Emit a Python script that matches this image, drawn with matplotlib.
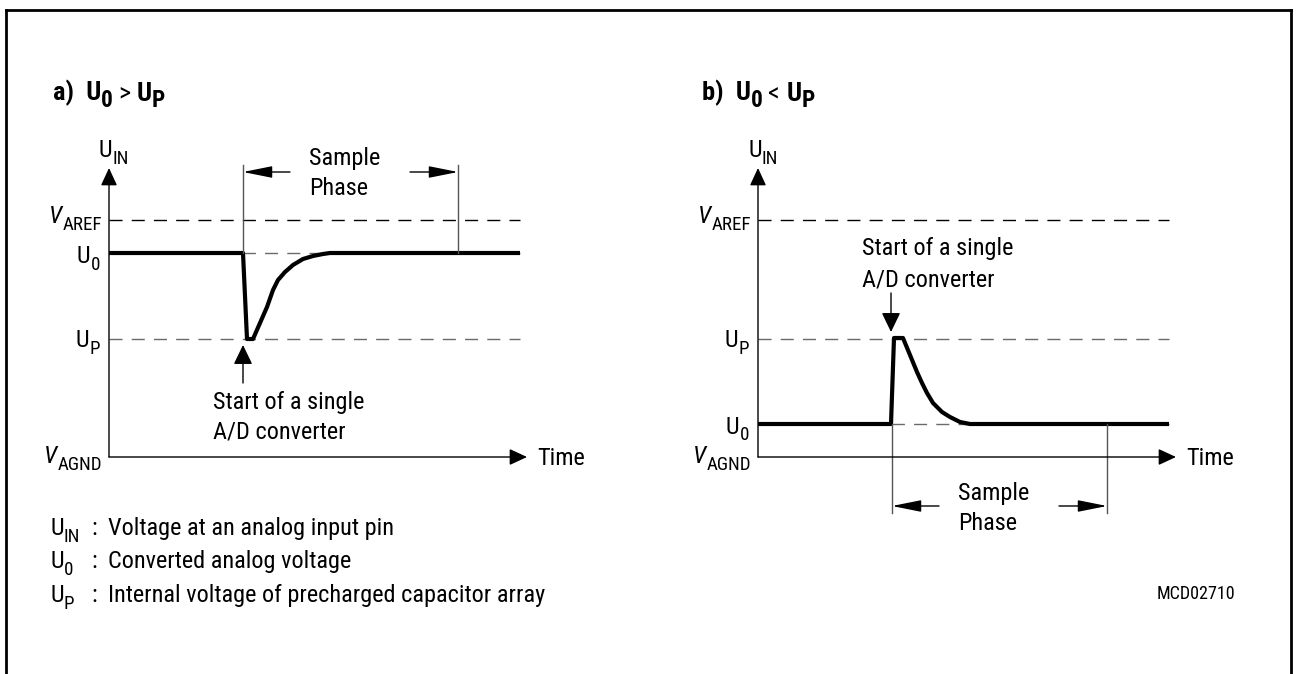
import matplotlib
matplotlib.use('Agg')
import matplotlib.pyplot as plt
from matplotlib import font_manager
from matplotlib.font_manager import FontProperties
from matplotlib.lines import Line2D


# ---- font: prefer a narrow sans (original uses Helvetica Narrow) ----
def _num(v, table):
    return table.get(v, 400) if isinstance(v, str) else v


def narrow_fonts():
    groups = {}
    for f in font_manager.fontManager.ttflist:
        fn = f.fname.lower()
        nm = f.name.lower()
        if 'mono' in fn or 'dejavu' in nm or ('serif' in nm and 'sans' not in nm):
            continue
        if any(k in fn for k in ('semicondensed', 'extracondensed', 'ultracondensed')):
            continue
        st = _num(f.stretch, font_manager.stretch_dict)
        if not (st < 500 or 'condensed' in fn or 'narrow' in fn):
            continue
        groups.setdefault(f.name, []).append(
            (f.style, _num(f.weight, font_manager.weight_dict), f.fname))
    order = ['liberation sans narrow', 'arial narrow', 'roboto condensed', 'noto sans']
    for key in order:
        for name, items in groups.items():
            if name.lower().startswith(key):
                def pick(style, w):
                    c = [i for i in items if (i[0] == 'normal') == (style == 'normal')]
                    c = c or items
                    return min(c, key=lambda i: abs(i[1] - w))[2]
                return (FontProperties(fname=pick('normal', 400)),
                        FontProperties(fname=pick('normal', 700)),
                        FontProperties(fname=pick('italic', 400)))
    return None


found = narrow_fonts()
if found:
    REG, BOLD, ITAL = found
    FS = 17.5
else:
    REG = FontProperties(family='Liberation Sans')
    BOLD = FontProperties(family='Liberation Sans', weight='bold')
    ITAL = FontProperties(family='Liberation Sans', style='italic')
    FS = 15.5
plt.rcParams['lines.scale_dashes'] = False

# --- data (time in arbitrary units, voltage with V_AGND = 0) ---
v_aref = 4.74
u_p = 2.36
u0_a = 4.08
u0_b = 0.66
t_end = 8.22          # end of drawn signal / dashed levels
t_axis = 8.36         # tip of time axis
u_axis = 5.78         # tip of U_IN axis
t_start = 2.68        # start of conversion
t_sample_end = 6.98   # end of sample phase

# waveform a)  U0 > UP
t_a = [0, 2.68, 2.76, 2.88, 3.02, 3.16, 3.28, 3.38, 3.52, 3.68, 3.88, 4.08, 4.28, 4.42, 8.22]
u_a = [4.08, 4.08, 2.36, 2.36, 2.68, 3.00, 3.34, 3.54, 3.70, 3.84, 3.96, 4.02, 4.06, 4.08, 4.08]

# waveform b)  U0 < UP
t_b = [0, 2.66, 2.72, 2.90, 3.04, 3.18, 3.28, 3.38, 3.50, 3.68, 3.84, 4.04, 4.24, 4.38, 8.22]
u_b = [0.66, 0.66, 2.38, 2.38, 2.04, 1.70, 1.48, 1.28, 1.08, 0.90, 0.80, 0.70, 0.66, 0.66, 0.66]

legend_keys = [('U', 'IN'), ('U', '0'), ('U', 'P')]
legend_desc = ['Voltage at an analog input pin',
               'Converted analog voltage',
               'Internal voltage of precharged capacitor array']

W, H = 1297, 674
PX = 50
DASH = (0, (9.4, 6.6))
GRAY = '#6a6a6a'
SUB_SCALE = 0.78
SUB_OFF = 4.2      # points
SUB_DROP = 0.14    # data units

fig = plt.figure(figsize=(W / 100, H / 100), dpi=100)

# outer frame (bottom edge is cut off)
for xs, ys in [([6, 6], [H + 5, 10]), ([6, 1291], [10, 10]), ([1291, 1291], [10, H + 5])]:
    fig.add_artist(Line2D([x / W for x in xs], [(H - y) / H for y in ys],
                          color='black', lw=2.0))


def panel_axes(x0, y0):
    xlim, ylim = (-2, 10.5), (-4, 8)
    left = (x0 + xlim[0] * PX) / W
    bottom = (H - (y0 - ylim[0] * PX)) / H
    ax = fig.add_axes([left, bottom, (xlim[1] - xlim[0]) * PX / W,
                       (ylim[1] - ylim[0]) * PX / H])
    ax.set_xlim(xlim)
    ax.set_ylim(ylim)
    ax.axis('off')
    return ax


def arrow(ax, tail, tip, hl, hw, color='black', lw=1.0):
    ax.annotate('', xy=tip, xytext=tail,
                arrowprops=dict(arrowstyle='-|>,head_length=%g,head_width=%g' % (hl, hw),
                                mutation_scale=10, lw=lw, color=color,
                                shrinkA=0, shrinkB=0))


def rich(ax, x, y, pieces, size=None, scale=SUB_SCALE, off=SUB_OFF):
    # left aligned text with subscripts: pieces = [(text, is_sub, fontprops), ...]
    size = size or FS
    prev, prev_sub = None, False
    for s, is_sub, f in pieces:
        sz = size * scale if is_sub else size
        if prev is None:
            prev = ax.text(x, y, s, fontproperties=f, fontsize=sz, va='baseline')
        else:
            dy = 0 if is_sub == prev_sub else (-off if is_sub else off)
            prev = ax.annotate(s, xy=(1, 0), xycoords=prev, xytext=(0, dy),
                               textcoords='offset points', fontproperties=f,
                               fontsize=sz, va='bottom')
        prev_sub = is_sub


def rlabel(ax, x, y, main, sub, fp_main):
    # right aligned label with subscript, main text baseline at y
    s = ax.text(x, y - SUB_DROP, sub, fontproperties=REG, fontsize=FS * SUB_SCALE,
                ha='right', va='baseline')
    ax.annotate(main, xy=(0, 0), xycoords=s, xytext=(-0.3, SUB_OFF),
                textcoords='offset points', fontproperties=fp_main, fontsize=FS,
                ha='right', va='bottom')


def base_panel(ax, tag, rel, t, u, u0):
    rich(ax, -1.13, 7.14, [(tag + '  U', False, BOLD), ('0', True, BOLD),
                           (' ' + rel + ' ', False, REG), ('U', False, BOLD),
                           ('P', True, BOLD)], size=FS + 1.5, scale=0.88, off=4.2)
    # axes with arrows
    arrow(ax, (0, 0), (0, u_axis), 1.08, 0.5)
    arrow(ax, (0, 0), (t_axis, 0), 1.08, 0.5)
    rich(ax, -0.2, 6.0, [('U', False, REG), ('IN', True, REG)])
    ax.text(t_axis + 0.2, -0.16, 'Time', fontproperties=REG, fontsize=FS, va='baseline')
    # reference levels
    ax.plot([0, t_end], [v_aref, v_aref], color='black', lw=1.0, ls=DASH)
    ax.plot([0, t_end], [u_p, u_p], color=GRAY, lw=1.0, ls=DASH)
    ax.plot([0, t_end], [u0, u0], color=GRAY, lw=1.0, ls=DASH)
    rlabel(ax, -0.14, 4.68, 'V', 'AREF', ITAL)
    rlabel(ax, -0.14, -0.12, 'V', 'AGND', ITAL)
    rlabel(ax, -0.18, u0 - 0.19, 'U', '0', REG)
    rlabel(ax, -0.18, u_p - 0.16, 'U', 'P', REG)
    # signal
    ax.plot(t, u, color='black', lw=3.0, solid_joinstyle='round', solid_capstyle='butt')


def sample_phase(ax, y_top, y_bot, y_arrow, y_text):
    for tx in (t_start, t_sample_end):
        ax.plot([tx, tx], [y_bot, y_top], color='#555555', lw=1.0)
    arrow(ax, (3.62, y_arrow), (t_start, y_arrow), 1.8, 0.36)
    arrow(ax, (6.02, y_arrow), (t_sample_end, y_arrow), 1.8, 0.36)
    ax.text(4.0, y_text, 'Sample', fontproperties=REG, fontsize=FS, va='baseline')
    ax.text(4.0, y_text - 0.6, 'Phase', fontproperties=REG, fontsize=FS, va='baseline')


# ---- panel a ----
ax_a = panel_axes(109, 457)
base_panel(ax_a, 'a)', '>', t_a, u_a, u0_a)
sample_phase(ax_a, 5.84, u0_a, 5.70, 5.84)
arrow(ax_a, (t_start, 1.48), (t_start, 2.24), 1.2, 0.58)
ax_a.text(2.08, 0.96, 'Start of a single', fontproperties=REG, fontsize=FS, va='baseline')
ax_a.text(2.08, 0.36, 'A/D converter', fontproperties=REG, fontsize=FS, va='baseline')

rows_y = [-1.56, -2.22, -2.9]
for (k, s), desc, y in zip(legend_keys, legend_desc, rows_y):
    rich(ax_a, -1.18, y, [(k, False, REG), (s, True, REG)])
    ax_a.text(-0.36, y, ':', fontproperties=REG, fontsize=FS, va='baseline')
    ax_a.text(-0.02, y, desc, fontproperties=REG, fontsize=FS, va='baseline')

# ---- panel b ----
ax_b = panel_axes(758, 457)
base_panel(ax_b, 'b)', '<', t_b, u_b, u0_b)
sample_phase(ax_b, u0_b, -1.12, -0.98, -0.86)
arrow(ax_b, (2.66, 3.28), (2.66, 2.5), 1.2, 0.58)
ax_b.text(2.08, 4.04, 'Start of a single', fontproperties=REG, fontsize=FS, va='baseline')
ax_b.text(2.08, 3.40, 'A/D converter', fontproperties=REG, fontsize=FS, va='baseline')
ax_b.text(9.54, -2.84, 'MCD02710', fontproperties=REG, fontsize=13,
          ha='right', va='baseline')

fig.savefig('out.png', dpi=100)
